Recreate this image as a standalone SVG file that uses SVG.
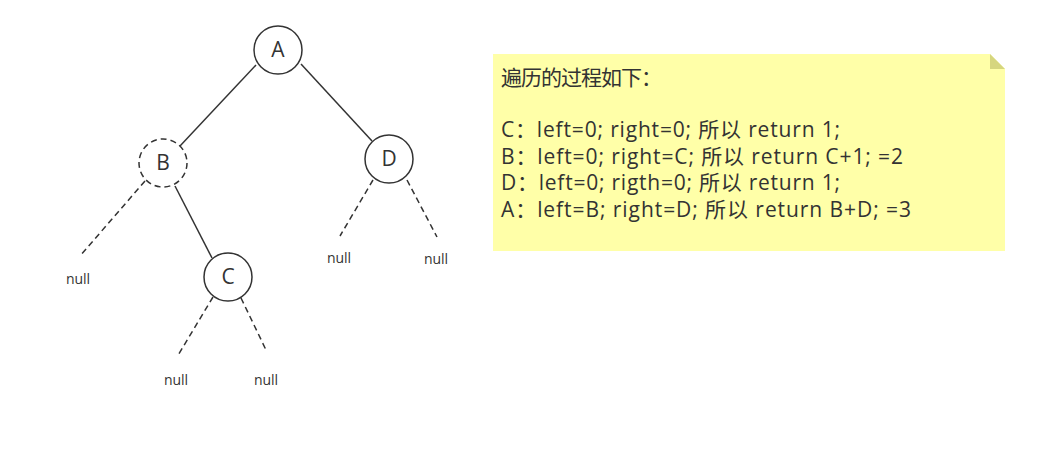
<svg xmlns="http://www.w3.org/2000/svg" width="1054" height="455" viewBox="0 0 1054 455">
<style>
.node circle{fill:#fff;stroke:#333;stroke-width:1.5}
.node text{font-family:"Open Sans","Noto Sans",sans-serif;font-size:21px;fill:#333;text-anchor:middle}
.dash{stroke-dasharray:6 4}
#edges line{stroke:#333;stroke-width:1.5}
.null{font-family:"Open Sans","Noto Sans",sans-serif;font-size:14px;fill:#333;text-anchor:middle}
.note{font-family:"Open Sans","Noto Sans CJK SC",sans-serif;font-size:21px;fill:#333}
</style>
<rect width="1054" height="455" fill="#fff"/>
<g id="edges">
<line x1="256" y1="65" x2="180" y2="146"/>
<line x1="301" y1="64" x2="372" y2="141"/>
<line x1="175" y1="186" x2="212" y2="258"/>
<line class="dash" x1="145" y1="181" x2="80" y2="256"/>
<line class="dash" x1="213" y1="297" x2="177" y2="357"/>
<line class="dash" x1="241" y1="298" x2="267" y2="352"/>
<line class="dash" x1="373" y1="180" x2="340" y2="236"/>
<line class="dash" x1="407" y1="180" x2="437" y2="237"/>
</g>
<g id="nodeA" class="node"><circle cx="278" cy="50" r="24"/><text x="278" y="57">A</text></g>
<g id="nodeB" class="node"><circle class="dash" cx="163" cy="163" r="24"/><text x="163" y="170">B</text></g>
<g id="nodeD" class="node"><circle cx="389" cy="159" r="24"/><text x="389" y="166">D</text></g>
<g id="nodeC" class="node"><circle cx="228" cy="277" r="24"/><text x="228" y="284">C</text></g>
<g id="nulls">
<text class="null" x="78" y="284">null</text>
<text class="null" x="339" y="263">null</text>
<text class="null" x="436" y="264">null</text>
<text class="null" x="176" y="385">null</text>
<text class="null" x="266" y="385">null</text>
</g>
<g id="note">
<path d="M493,54 L990,54 L1005,69 L1005,251 L493,251 Z" fill="#ffffa8"/>
<path d="M990,54 L990,69 L1005,69 Z" fill="#d6d67f"/>
<text class="note" x="501" y="85" textLength="161" lengthAdjust="spacing">遍历的过程如下：</text>
<text class="note" x="501" y="137" textLength="339" lengthAdjust="spacing">C：left=0; right=0; 所以 return 1;</text>
<text class="note" x="501" y="164" textLength="402" lengthAdjust="spacing">B：left=0; right=C; 所以 return C+1; =2</text>
<text class="note" x="501" y="190" textLength="339" lengthAdjust="spacing">D：left=0; rigth=0; 所以 return 1;</text>
<text class="note" x="501" y="217" textLength="410" lengthAdjust="spacing">A：left=B; right=D; 所以 return B+D; =3</text>
</g>
</svg>
